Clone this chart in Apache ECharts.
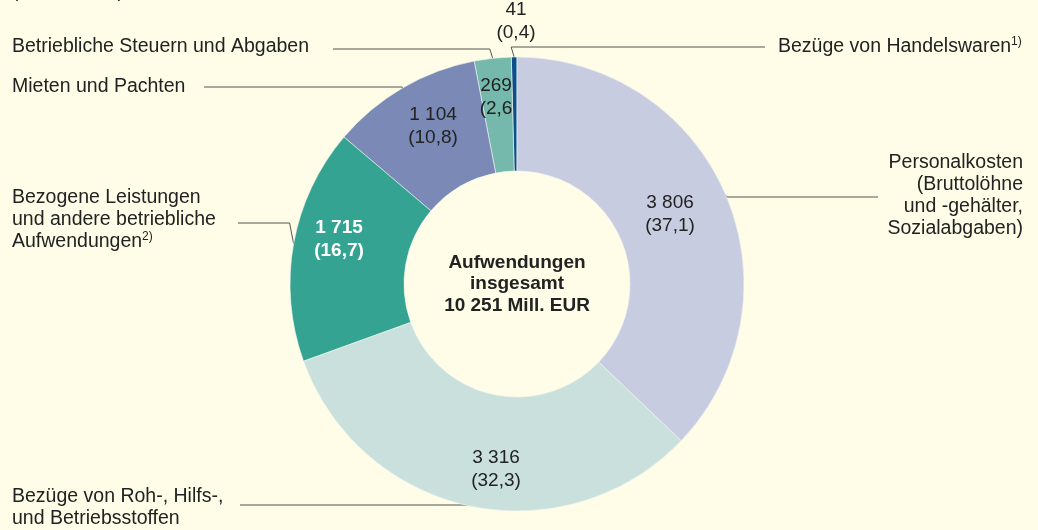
<!DOCTYPE html>
<html>
<head>
<meta charset="utf-8">
<title>Aufwendungen insgesamt</title>
<script src="https://cdn.jsdelivr.net/npm/echarts@6/dist/echarts.min.js"></script>
<style>
  html, body { margin: 0; padding: 0; background: #fffde8; }
  #chart { width: 1038px; height: 530px; }
</style>
</head>
<body>
<div id="chart"></div>
<script>
// counter-clockwise from the top
const categories = [
  'Bezüge von Handelswaren',
  'Betriebliche Steuern und Abgaben',
  'Mieten und Pachten',
  'Bezogene Leistungen und andere betriebliche Aufwendungen',
  'Bezüge von Roh-, Hilfs-, und Betriebsstoffen',
  'Personalkosten'
];
const values = [41, 269, 1104, 1715, 3316, 3806];
const shares = ['0,4', '2,6', '10,8', '16,7', '32,3', '37,1'];
const nameLabels = [
  'Bezüge von Handelswaren{sup|1)}',
  'Betriebliche Steuern und Abgaben',
  'Mieten und Pachten',
  'Bezogene Leistungen\nund andere betriebliche\nAufwendungen{sup|2)}',
  'Bezüge von Roh-, Hilfs-,\nund Betriebsstoffen',
  'Personalkosten\n(Bruttolöhne\nund -gehälter,\nSozialabgaben)'
];

const colors = ['#0b4f8c', '#74b9ab', '#7a89b5', '#35a392', '#c9e0dd', '#c8cce1'];
const textColor = '#222222';
const center = [517, 284];
const radius = [113, 227];
const font = 'Liberation Sans, Arial, sans-serif';

// label placement
const valuePos = [[516, 21], [496, 97], [433, 126], [339, 239], [496, 469], [670, 214]];
const namePos = [[778, 47, 'left'], [12, 47, 'left'], [12, 87, 'left'], [12, 220, 'left'], [12, 508, 'left'], [1023, 196, 'right']];
const lineY = [47, 49, 87, 223, 505, 197];
const lineEndX = [765, 333, 204, 238, 240, 878];

const total = values.reduce((a, b) => a + b, 0);

function fmt(v) {
  return String(v).replace(/\B(?=(\d{3})+(?!\d))/g, ' ');
}

function edgePoint(i) {
  let before = 0;
  for (let k = 0; k < i; k++) before += values[k];
  const a = (before + values[i] / 2) / total * Math.PI * 2;
  return [center[0] - radius[1] * Math.sin(a), center[1] - radius[1] * Math.cos(a)];
}

const chart = echarts.init(document.getElementById('chart'));

chart.setOption({
  backgroundColor: '#fffde8',
  animation: false,
  color: colors,
  graphic: [
    {
      type: 'text',
      style: {
        x: 12, y: -8, text: '(in Mill. EUR)', align: 'left', verticalAlign: 'middle',
        font: '19px ' + font, fill: textColor
      }
    },
    {
      type: 'text',
      z: 10,
      style: {
        x: center[0], y: 284, align: 'center', verticalAlign: 'middle',
        text: 'Aufwendungen\ninsgesamt\n' + fmt(total) + ' Mill. EUR',
        font: 'bold 19px ' + font, lineHeight: 21.5, fill: textColor
      }
    }
  ],
  series: [
    {
      name: 'Werte',
      type: 'pie',
      center: center,
      radius: radius,
      startAngle: 90,
      clockwise: false,
      avoidLabelOverlap: false,
      silent: true,
      itemStyle: { borderColor: '#f4f6ee', borderWidth: 0.6 },
      label: {
        show: true,
        position: 'inside',
        fontFamily: font,
        fontSize: 19,
        lineHeight: 23,
        color: textColor,
        formatter: function (p) {
          // the ")" of the small slice is hidden behind its neighbour in the original
          const s = p.dataIndex === 1 ? '(' + shares[1] : '(' + shares[p.dataIndex] + ')';
          return fmt(values[p.dataIndex]) + '\n' + s;
        }
      },
      labelLine: { show: false },
      labelLayout: function (params) {
        const p = valuePos[params.dataIndex];
        return { x: p[0], y: p[1], align: 'center', verticalAlign: 'middle' };
      },
      data: values.map((v, i) => ({
        value: v,
        name: categories[i],
        label: i === 3 ? { color: '#ffffff', fontWeight: 'bold' } : undefined
      }))
    },
    {
      name: 'Namen',
      type: 'pie',
      center: center,
      radius: radius,
      startAngle: 90,
      clockwise: false,
      avoidLabelOverlap: false,
      silent: true,
      itemStyle: { color: 'transparent', borderWidth: 0 },
      label: {
        show: true,
        position: 'outside',
        fontFamily: font,
        fontSize: 19.5,
        lineHeight: 22,
        color: textColor,
        formatter: function (p) {
          return nameLabels[p.dataIndex];
        },
        rich: {
          sup: { fontFamily: font, fontSize: 12, lineHeight: 12, verticalAlign: 'top', color: textColor }
        }
      },
      labelLine: {
        show: true,
        length: 5,
        length2: 5,
        lineStyle: { color: '#555555', width: 1 }
      },
      labelLayout: function (params) {
        const i = params.dataIndex;
        const p = namePos[i];
        const start = params.labelLinePoints ? params.labelLinePoints[0] : edgePoint(i);
        // small kink away from the ring before the horizontal run
        const dir = start[0] < center[0] ? -1 : 1;
        const kink = Math.min(4, Math.abs(start[1] - lineY[i]) * 0.3);
        return {
          x: p[0],
          y: p[1],
          align: p[2],
          verticalAlign: 'middle',
          labelLinePoints: [start, [start[0] + dir * kink, lineY[i]], [lineEndX[i], lineY[i]]]
        };
      },
      data: values.map((v, i) => ({ value: v, name: categories[i] }))
    }
  ]
});
</script>
</body>
</html>
